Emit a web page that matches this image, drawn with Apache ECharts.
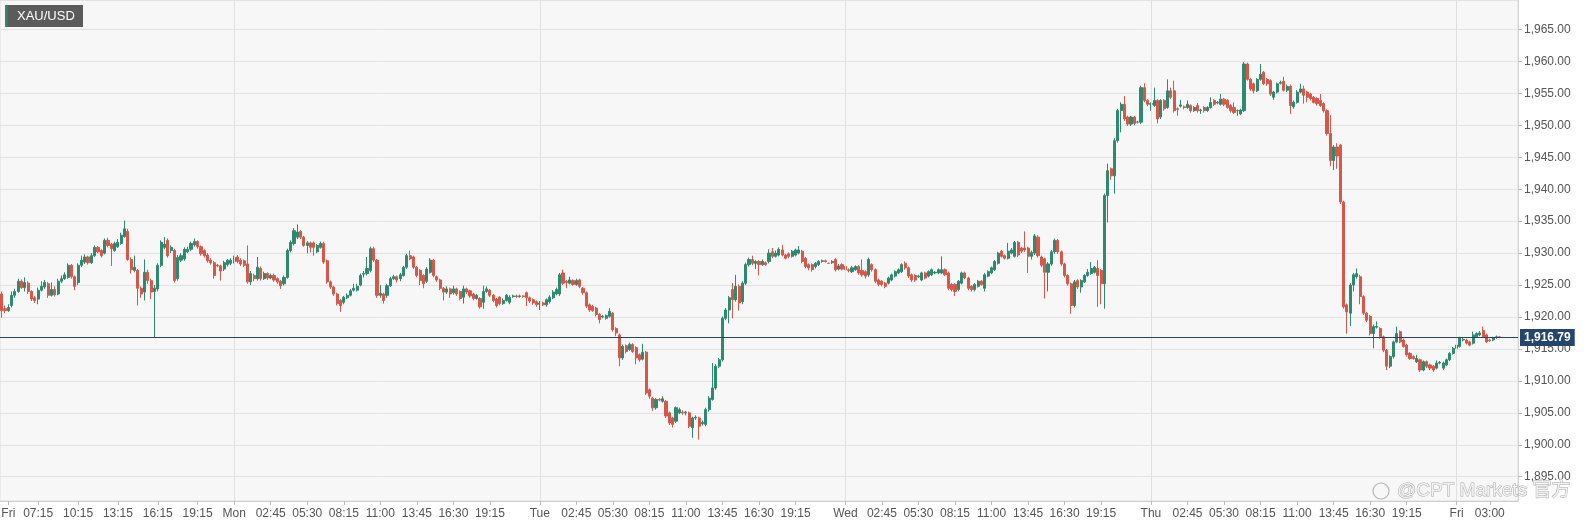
<!DOCTYPE html>
<html><head><meta charset="utf-8">
<script src="https://cdn.jsdelivr.net/npm/echarts@6/dist/echarts.min.js"></script>
<style>html,body{margin:0;padding:0;background:#fff}#c{width:1588px;height:527px}</style>
</head><body><div id="c"></div><script>
// ---------- DATA ----------
const symbolName = 'XAU/USD';
const lastPrice = 1916.79;
const watermark = '@CPT Markets 官方';
// Session days: [day name, first 15-min slot of session, number of slots]
const daySessions = [['Fri',18,70],['Mon',0,92],['Tue',0,92],['Wed',0,92],['Thu',0,92],['Fri',0,19]];
// candles: [open, close, low, high]
const fri1Candles = [
[1923.6,1921.0,1919.9,1924.0],[1921.3,1921.0,1920.6,1921.8],[1921.0,1921.5,1920.8,1922.0],[1921.8,1923.4,1921.5,1924.0],
[1923.4,1924.0,1923.0,1924.4],[1924.0,1925.6,1923.8,1926.0],[1925.6,1924.6,1924.4,1925.9],[1924.6,1925.4,1924.0,1926.2],
[1925.3,1924.0,1923.6,1925.6],[1924.0,1922.8,1922.5,1924.2],[1923.0,1922.6,1922.2,1923.3],[1922.8,1924.2,1922.0,1924.6],
[1924.2,1924.8,1924.0,1925.6],[1924.7,1925.4,1924.4,1925.8],[1925.2,1923.4,1923.0,1925.5],[1923.4,1924.3,1923.2,1925.4],
[1924.3,1923.5,1923.2,1924.8],[1923.6,1925.6,1923.4,1926.0],[1925.6,1926.0,1925.3,1926.5],[1926.0,1926.6,1925.8,1927.0],
[1926.2,1928.1,1926.0,1928.4],[1928.1,1926.3,1926.0,1928.3],[1926.3,1924.8,1924.2,1926.5],[1925.4,1928.1,1925.0,1928.4],
[1928.1,1928.9,1927.8,1929.6],[1928.6,1929.4,1928.3,1929.8],[1929.4,1928.5,1928.2,1929.6],[1928.5,1929.6,1928.3,1930.0],
[1929.6,1930.9,1929.4,1931.2],[1930.9,1930.2,1930.0,1931.1],[1930.4,1929.6,1929.3,1930.6],[1930.0,1932.0,1929.8,1932.3],
[1932.0,1931.2,1930.9,1932.4],[1931.4,1930.7,1928.0,1931.6],[1930.4,1931.5,1930.2,1931.8],[1931.0,1931.7,1930.8,1932.2],
[1931.5,1932.8,1931.3,1933.2],[1932.6,1933.8,1932.4,1935.1],[1933.4,1929.0,1928.8,1933.8],[1929.0,1927.4,1926.8,1929.3],
[1927.3,1927.8,1927.0,1929.6],[1927.3,1924.5,1921.8,1927.5],[1924.5,1923.6,1923.0,1924.8],[1923.9,1927.0,1922.6,1929.0],
[1927.0,1925.7,1925.2,1927.4],[1925.7,1923.9,1922.8,1926.0],[1924.0,1924.5,1916.8,1925.0],[1924.4,1928.1,1924.0,1928.4],
[1928.1,1931.7,1927.8,1932.0],[1930.9,1931.4,1930.6,1932.5],[1932.0,1929.6,1929.3,1932.3],[1930.4,1930.9,1930.0,1931.2],
[1930.4,1925.7,1925.4,1930.7],[1926.0,1929.3,1925.7,1929.7],[1928.9,1929.6,1928.6,1930.0],[1929.1,1930.6,1928.8,1930.9],
[1930.2,1930.6,1930.0,1931.0],[1930.6,1931.5,1930.3,1931.8],[1931.3,1931.8,1931.0,1932.3],[1931.8,1931.0,1930.7,1932.0],
[1931.0,1929.9,1929.6,1931.2],[1930.4,1929.6,1929.3,1930.6],[1929.7,1928.8,1928.5,1930.0],[1928.9,1928.5,1928.2,1929.2],
[1928.5,1926.5,1926.0,1928.8],[1928.1,1928.0,1927.8,1928.3],[1928.0,1927.2,1925.7,1928.2],[1927.5,1928.5,1927.2,1928.8],
[1928.2,1928.9,1927.9,1929.1],[1928.4,1928.9,1928.1,1929.2]
];
const monCandles = [
[1928.7,1929.3,1928.4,1929.6],[1929.4,1928.7,1928.4,1929.7],[1928.9,1928.3,1928.0,1929.2],[1928.8,1928.1,1927.8,1929.0],
[1928.3,1925.5,1925.2,1931.2],[1925.5,1926.8,1925.0,1927.2],[1926.5,1926.0,1925.6,1926.8],[1926.0,1927.8,1925.7,1929.4],
[1927.6,1926.0,1925.7,1927.9],[1926.0,1926.8,1925.8,1927.1],[1926.8,1926.1,1925.8,1927.0],[1926.1,1926.5,1925.9,1926.8],
[1926.5,1925.8,1925.5,1926.8],[1926.0,1925.5,1925.2,1926.2],[1925.6,1924.9,1924.4,1925.8],[1925.2,1926.2,1924.9,1926.5],
[1926.2,1930.4,1926.0,1930.7],[1930.4,1931.7,1930.1,1932.0],[1931.5,1933.5,1931.2,1933.9],[1932.5,1933.3,1932.2,1934.5],
[1933.4,1932.5,1932.2,1933.6],[1932.5,1931.2,1931.0,1932.7],[1931.2,1931.6,1930.0,1931.9],[1931.6,1930.9,1930.1,1931.8],
[1931.6,1930.9,1929.6,1931.8],[1930.2,1931.2,1930.0,1931.4],[1930.9,1931.5,1930.7,1931.8],[1931.5,1928.6,1928.3,1931.8],
[1928.8,1925.5,1925.2,1929.0],[1925.5,1924.7,1924.4,1925.7],[1924.7,1923.6,1923.3,1924.9],[1923.6,1922.1,1921.8,1923.8],
[1922.6,1921.8,1920.8,1922.8],[1922.3,1923.1,1922.0,1923.3],[1923.0,1923.4,1922.8,1923.7],[1923.4,1924.1,1923.2,1924.4],
[1924.2,1924.5,1924.0,1925.2],[1924.2,1924.8,1924.0,1925.2],[1925.0,1926.5,1924.8,1926.8],[1926.7,1926.8,1926.2,1927.2],
[1926.8,1927.6,1926.5,1929.4],[1927.3,1930.7,1927.0,1931.0],[1930.7,1928.9,1928.6,1931.0],[1928.9,1923.4,1923.0,1929.1],
[1923.4,1923.7,1923.0,1925.0],[1923.6,1922.6,1922.1,1923.8],[1923.4,1924.9,1923.0,1925.2],[1924.9,1926.0,1924.7,1926.3],
[1926.0,1926.3,1925.8,1926.6],[1926.3,1925.8,1925.4,1926.5],[1926.0,1926.6,1925.6,1926.9],[1926.5,1927.8,1926.3,1928.0],
[1927.8,1929.6,1927.5,1929.9],[1929.6,1929.1,1928.9,1930.4],[1929.4,1927.8,1927.5,1929.6],[1927.8,1926.5,1926.2,1928.0],
[1927.3,1925.7,1925.0,1927.5],[1926.5,1925.2,1924.5,1926.7],[1925.6,1927.5,1925.3,1927.8],[1927.0,1928.9,1926.8,1929.2],
[1928.9,1926.5,1926.2,1929.1],[1926.3,1925.8,1925.5,1926.5],[1925.8,1924.5,1924.2,1926.0],[1924.5,1923.9,1922.6,1924.7],
[1923.9,1924.4,1923.6,1924.8],[1924.4,1923.6,1923.0,1924.6],[1923.8,1924.4,1923.5,1924.9],[1924.4,1923.6,1923.3,1924.6],
[1924.0,1922.9,1922.6,1924.2],[1923.1,1924.4,1922.1,1924.9],[1924.4,1923.9,1923.6,1924.6],[1924.1,1923.3,1923.0,1924.3],
[1923.6,1922.9,1922.6,1923.8],[1922.9,1923.4,1922.7,1923.6],[1922.9,1921.6,1921.3,1923.1],[1922.3,1924.0,1921.3,1924.9],
[1924.0,1924.4,1923.8,1924.8],[1924.2,1923.4,1923.1,1924.4],[1923.4,1922.6,1922.3,1923.6],[1922.8,1921.8,1921.5,1923.0],
[1923.1,1922.1,1921.8,1923.3],[1922.1,1922.6,1921.9,1922.9],[1922.6,1923.4,1922.4,1923.6],[1922.3,1923.1,1922.0,1923.4],
[1923.2,1923.3,1923.0,1923.5],[1923.3,1923.2,1923.0,1923.5],[1923.2,1923.3,1923.0,1923.5],[1923.3,1923.2,1923.0,1923.4],
[1923.8,1923.0,1921.7,1924.0],[1923.0,1922.5,1922.2,1923.2],[1922.7,1922.2,1921.9,1922.9],[1922.4,1921.9,1921.6,1922.6]
];
const tueCandles = [
[1922.0,1922.2,1921.1,1922.5],[1922.2,1921.9,1921.7,1922.4],[1921.9,1922.7,1921.6,1922.9],[1922.4,1923.1,1922.1,1923.4],
[1923.0,1923.9,1922.8,1924.2],[1923.6,1924.3,1923.4,1924.6],[1923.6,1926.6,1923.3,1926.9],[1926.9,1925.3,1925.0,1927.4],
[1925.6,1925.4,1924.5,1925.8],[1925.3,1925.8,1925.1,1926.3],[1925.7,1925.1,1924.9,1925.9],[1925.1,1925.7,1924.9,1926.0],
[1925.8,1924.8,1924.5,1926.0],[1924.5,1923.8,1923.5,1924.7],[1923.8,1921.7,1921.4,1924.0],[1921.9,1921.1,1920.8,1922.1],
[1921.7,1921.0,1920.8,1921.9],[1921.4,1920.4,1920.1,1921.6],[1920.4,1919.6,1919.0,1920.6],[1920.0,1920.1,1919.8,1920.3],
[1919.8,1920.2,1919.6,1920.4],[1920.1,1920.9,1919.9,1921.4],[1920.6,1918.0,1917.7,1920.8],[1918.2,1917.5,1917.0,1918.4],
[1917.2,1913.6,1912.3,1917.4],[1913.6,1915.4,1913.3,1915.7],[1915.5,1914.6,1914.3,1915.7],[1914.9,1915.7,1914.7,1916.0],
[1915.7,1914.6,1914.4,1915.9],[1915.2,1913.6,1912.6,1915.4],[1914.1,1913.3,1913.0,1914.3],[1913.4,1914.5,1913.2,1915.8],
[1914.5,1908.1,1907.8,1914.7],[1908.6,1907.6,1907.2,1908.8],[1907.3,1905.8,1905.3,1907.5],[1905.8,1907.1,1905.5,1907.3],
[1907.1,1907.0,1906.8,1907.3],[1906.8,1907.2,1906.6,1907.6],[1906.8,1904.5,1904.2,1907.0],[1905.0,1903.4,1903.1,1905.2],
[1904.2,1903.2,1902.7,1904.4],[1903.7,1905.8,1903.4,1906.0],[1905.0,1905.5,1904.8,1905.8],[1905.1,1905.0,1904.7,1905.4],
[1905.0,1905.1,1904.6,1905.3],[1905.0,1902.9,1902.6,1905.2],[1902.7,1904.2,1901.1,1904.4],[1904.2,1904.3,1903.9,1904.6],
[1904.2,1902.9,1900.8,1904.4],[1903.3,1903.5,1903.0,1903.8],[1903.2,1905.5,1902.9,1905.8],[1905.5,1907.3,1905.2,1907.6],
[1907.1,1908.9,1906.9,1912.8],[1908.9,1912.3,1908.6,1912.6],[1912.3,1913.3,1912.0,1913.6],[1913.3,1919.8,1913.0,1920.1],
[1919.8,1921.1,1919.5,1921.4],[1921.1,1923.0,1919.0,1923.3],[1924.3,1922.7,1919.8,1925.3],[1922.7,1924.8,1922.4,1926.6],
[1924.8,1922.2,1921.0,1925.1],[1922.4,1925.3,1922.0,1925.6],[1925.3,1928.2,1925.0,1928.5],[1928.2,1929.0,1927.9,1929.3],
[1929.0,1928.4,1928.1,1929.6],[1928.4,1928.7,1927.5,1928.9],[1928.7,1928.2,1926.5,1928.9],[1928.2,1928.7,1928.0,1929.0],
[1928.5,1928.2,1928.0,1928.7],[1928.7,1930.0,1928.4,1930.6],[1930.2,1929.5,1929.2,1930.8],[1929.5,1930.0,1929.3,1930.4],
[1929.7,1930.6,1929.5,1930.9],[1930.5,1929.7,1929.5,1931.3],[1929.7,1929.2,1929.0,1929.9],[1929.9,1929.5,1929.2,1930.1],
[1929.5,1930.3,1929.3,1930.5],[1929.7,1930.5,1929.5,1930.7],[1930.0,1930.5,1929.8,1931.1],[1930.3,1928.7,1928.4,1930.5],
[1929.2,1927.9,1927.6,1929.4],[1928.2,1927.7,1927.3,1928.4],[1928.2,1927.4,1927.1,1928.4],[1927.9,1928.4,1927.6,1928.6],
[1928.2,1928.7,1928.0,1928.9],[1928.7,1928.8,1928.5,1929.0],[1928.8,1928.7,1928.5,1929.0],[1928.4,1928.4,1928.3,1928.5],
[1928.5,1928.7,1928.3,1928.9],[1929.0,1927.4,1927.1,1929.2],[1927.5,1928.0,1927.3,1928.3],[1928.2,1927.5,1927.3,1928.4]
];
const wedCandles = [
[1927.9,1927.4,1927.1,1928.1],[1927.4,1927.3,1927.0,1927.6],[1927.1,1927.7,1926.9,1928.0],[1927.4,1927.9,1927.2,1928.1],
[1927.9,1926.9,1926.6,1928.1],[1927.3,1926.6,1926.3,1929.0],[1927.1,1926.4,1926.0,1927.3],[1926.6,1929.0,1926.3,1929.3],
[1928.2,1927.4,1927.1,1928.4],[1927.4,1925.6,1925.3,1927.6],[1925.8,1925.1,1924.8,1926.0],[1925.6,1925.1,1924.8,1925.8],
[1925.3,1924.8,1924.5,1925.5],[1925.3,1926.1,1925.1,1926.3],[1925.8,1926.6,1925.6,1926.8],[1926.4,1927.1,1926.2,1927.3],
[1926.9,1927.4,1926.7,1927.6],[1927.1,1928.2,1926.9,1928.4],[1928.4,1927.7,1927.4,1928.7],[1927.7,1926.4,1926.1,1927.9],
[1926.6,1925.8,1925.5,1926.8],[1926.5,1925.8,1925.5,1926.7],[1926.3,1926.4,1926.1,1926.6],[1925.8,1926.9,1925.6,1927.1],
[1926.9,1926.1,1925.9,1927.1],[1926.4,1927.1,1926.2,1927.3],[1926.6,1927.4,1926.4,1927.6],[1926.9,1927.0,1926.7,1927.2],
[1926.9,1927.4,1926.7,1927.6],[1926.9,1927.4,1926.7,1929.5],[1927.4,1926.6,1926.4,1927.6],[1926.9,1924.5,1924.2,1927.1],
[1925.1,1924.3,1924.0,1925.3],[1925.1,1924.0,1923.3,1925.3],[1924.3,1925.6,1924.0,1925.8],[1925.3,1926.9,1925.1,1927.1],
[1926.9,1926.1,1925.9,1927.1],[1926.1,1924.5,1924.2,1926.3],[1924.8,1924.3,1924.0,1925.0],[1924.3,1925.1,1924.0,1925.3],
[1924.8,1925.6,1924.6,1925.8],[1925.6,1925.1,1924.9,1925.8],[1924.5,1926.6,1924.0,1926.9],[1926.4,1927.1,1926.2,1927.3],
[1926.9,1927.7,1926.7,1927.9],[1927.4,1928.7,1927.2,1928.9],[1928.4,1930.0,1928.2,1930.2],[1930.3,1929.5,1929.3,1930.5],
[1929.6,1929.2,1929.0,1929.8],[1929.2,1930.3,1929.0,1931.6],[1930.0,1930.5,1929.8,1930.8],[1929.5,1931.7,1929.3,1931.9],
[1931.7,1929.7,1929.4,1931.9],[1930.8,1930.3,1930.0,1931.0],[1930.8,1930.5,1930.2,1933.4],[1930.8,1929.5,1926.9,1931.0],
[1929.5,1930.1,1929.0,1930.4],[1930.0,1932.7,1929.7,1933.0],[1932.5,1929.6,1929.3,1932.8],[1929.4,1928.1,1927.8,1929.6],
[1929.1,1927.0,1922.9,1929.3],[1927.0,1928.3,1924.0,1928.6],[1928.3,1930.2,1928.0,1930.5],[1930.2,1932.0,1929.9,1932.3],
[1932.0,1930.2,1929.9,1932.2],[1930.2,1928.3,1928.0,1930.4],[1928.3,1926.5,1926.2,1928.5],[1926.5,1925.2,1924.9,1926.7],
[1925.2,1921.8,1920.5,1925.4],[1921.8,1925.5,1921.5,1925.8],[1925.7,1924.7,1924.4,1925.9],[1924.7,1925.7,1923.8,1925.9],
[1925.5,1926.5,1925.3,1926.7],[1926.5,1927.0,1926.3,1927.5],[1926.8,1927.6,1926.6,1928.6],[1927.0,1927.8,1926.8,1928.0],
[1927.6,1926.5,1921.6,1928.9],[1927.3,1925.2,1922.0,1927.5],[1925.2,1939.0,1921.3,1939.3],[1939.0,1942.9,1934.8,1944.0],
[1943.2,1942.1,1941.5,1943.4],[1942.1,1947.6,1939.3,1948.0],[1947.6,1952.3,1947.3,1952.6],[1952.3,1953.3,1948.9,1953.6],
[1953.3,1951.0,1950.7,1954.6],[1951.3,1950.2,1949.9,1951.5],[1950.2,1951.3,1949.9,1951.5],[1951.3,1950.3,1950.0,1951.5],
[1950.5,1950.5,1950.3,1950.7],[1950.5,1955.9,1950.2,1956.2],[1955.9,1953.9,1953.6,1956.6],[1953.9,1953.3,1953.0,1954.1]
];
const thuCandles = [
[1953.3,1953.4,1952.3,1953.6],[1953.1,1953.9,1952.9,1955.9],[1953.9,1951.0,1950.3,1954.1],[1951.3,1953.9,1951.0,1954.1],
[1953.9,1952.6,1952.3,1954.1],[1952.8,1955.4,1952.6,1957.2],[1955.4,1954.4,1954.1,1955.9],[1955.4,1952.3,1952.0,1957.0],
[1952.6,1952.5,1951.5,1952.8],[1953.0,1953.2,1952.8,1954.0],[1952.9,1952.8,1952.5,1953.1],[1952.8,1953.3,1952.6,1953.9],
[1953.1,1952.3,1952.0,1953.3],[1952.3,1952.8,1952.1,1953.0],[1953.1,1952.3,1952.0,1953.5],[1952.3,1952.4,1951.8,1952.6],
[1952.8,1952.3,1952.0,1953.0],[1952.3,1952.8,1952.1,1953.0],[1952.8,1953.6,1952.6,1954.4],[1953.9,1953.3,1953.0,1954.1],
[1953.5,1953.6,1953.3,1953.8],[1953.3,1954.1,1953.1,1954.9],[1954.1,1953.3,1953.0,1954.3],[1953.9,1952.8,1952.6,1954.1],
[1953.1,1952.3,1952.0,1953.3],[1952.8,1952.0,1951.8,1953.6],[1952.3,1952.3,1951.5,1952.5],[1951.8,1952.4,1951.6,1952.6],
[1952.3,1959.6,1952.1,1959.9],[1959.6,1957.2,1957.0,1959.8],[1957.2,1955.7,1955.4,1957.4],[1956.5,1955.4,1955.0,1956.7],
[1955.4,1957.2,1955.2,1957.4],[1957.2,1958.0,1957.0,1959.6],[1958.3,1956.5,1956.3,1958.5],[1957.2,1956.5,1956.2,1957.4],
[1957.0,1954.9,1954.6,1957.2],[1954.4,1955.2,1954.0,1955.4],[1955.2,1956.5,1955.0,1956.7],[1956.6,1956.7,1956.4,1957.0],
[1956.9,1955.5,1955.3,1957.6],[1955.5,1956.1,1955.2,1956.4],[1956.1,1953.1,1951.8,1956.4],[1952.9,1953.6,1952.6,1953.9],
[1953.6,1955.2,1953.4,1955.5],[1955.2,1955.7,1955.0,1956.5],[1955.7,1954.7,1953.4,1956.2],[1955.2,1954.4,1953.6,1955.4],
[1954.9,1954.2,1953.9,1955.1],[1954.4,1953.6,1953.4,1954.6],[1954.2,1953.4,1953.1,1954.4],[1953.9,1953.1,1952.9,1954.9],
[1953.4,1952.3,1952.0,1953.6],[1952.3,1948.7,1948.4,1952.5],[1948.7,1944.5,1943.6,1951.6],[1944.5,1946.6,1943.0,1946.9],
[1946.6,1945.2,1943.2,1947.2],[1946.9,1938.0,1937.7,1947.1],[1938.0,1921.6,1921.3,1938.2],[1921.9,1920.8,1917.4,1922.1],
[1920.6,1925.0,1918.6,1925.3],[1925.0,1926.6,1924.0,1926.9],[1926.3,1926.8,1926.0,1927.6],[1926.3,1923.2,1922.0,1926.6],
[1923.2,1920.6,1920.3,1923.4],[1920.6,1919.5,1919.2,1920.8],[1920.1,1917.4,1917.1,1920.3],[1917.4,1918.5,1915.1,1918.8],
[1918.4,1918.5,1918.2,1919.3],[1918.2,1916.9,1916.6,1918.4],[1916.9,1914.8,1914.5,1917.1],[1914.8,1912.3,1911.7,1915.0],
[1912.3,1913.8,1912.0,1914.0],[1913.8,1916.1,1913.5,1916.3],[1916.1,1917.4,1915.9,1918.5],[1917.7,1916.1,1915.9,1917.9],
[1916.4,1915.4,1915.2,1916.6],[1915.6,1914.1,1913.8,1915.8],[1914.3,1913.5,1913.3,1914.5],[1913.8,1913.5,1913.3,1914.0],
[1913.0,1913.5,1912.8,1914.1],[1913.3,1911.7,1911.4,1913.5],[1911.7,1913.0,1911.5,1913.2],[1913.0,1912.3,1912.0,1913.2],
[1912.5,1912.0,1911.7,1912.7],[1912.3,1911.7,1911.4,1912.5],[1912.0,1912.8,1911.8,1913.2],[1912.8,1912.9,1912.6,1913.1],
[1912.0,1912.8,1911.7,1913.0],[1912.5,1913.3,1912.3,1913.5],[1913.3,1914.3,1913.1,1914.5],[1914.3,1915.1,1914.1,1915.3]
];
const fri2Candles = [
[1915.1,1915.6,1914.9,1915.8],[1915.4,1916.7,1915.2,1916.9],[1916.4,1916.5,1916.2,1916.7],[1916.4,1915.9,1915.7,1916.6],
[1916.1,1915.6,1915.4,1916.3],[1915.9,1917.2,1915.7,1917.7],[1916.9,1917.4,1916.7,1917.6],[1917.2,1917.5,1917.0,1917.8],
[1917.9,1916.9,1916.7,1918.5],[1917.2,1916.1,1915.9,1917.4],[1916.4,1916.3,1916.1,1916.6],[1916.4,1916.7,1916.2,1916.9],
[1916.8,1916.9,1916.6,1917.1],[1916.9,1916.79,1916.7,1917.0]
];
// x-axis tick labels: [category index, text]
const tickLabels = [
[2,'Fri'],[11,'07:15'],[23,'10:15'],[35,'13:15'],[47,'16:15'],[59,'19:15'],
[70,'Mon'],[81,'02:45'],[92,'05:30'],[103,'08:15'],[114,'11:00'],[125,'13:45'],[136,'16:30'],[147,'19:15'],
[162,'Tue'],[173,'02:45'],[184,'05:30'],[195,'08:15'],[206,'11:00'],[217,'13:45'],[228,'16:30'],[239,'19:15'],
[254,'Wed'],[265,'02:45'],[276,'05:30'],[287,'08:15'],[298,'11:00'],[309,'13:45'],[320,'16:30'],[331,'19:15'],
[346,'Thu'],[357,'02:45'],[368,'05:30'],[379,'08:15'],[390,'11:00'],[401,'13:45'],[412,'16:30'],[423,'19:15'],
[438,'Fri'],[448,'03:00']
];
const yMin = 1891.2, yMax = 1969.62;

// ---------- BUILD ----------
const UP = '#2e8a6f', DOWN = '#d6584b';
function pad(n){return (n<10?'0':'')+n;}
function sessionTimes(){const out=[];for(let m=0;m<1440;m+=15){if(m>=1260&&m<1320)continue;out.push(pad(Math.floor(m/60))+':'+pad(m%60));}return out;}
const slots = sessionTimes();
const categories = [];
daySessions.forEach(([d,s,n])=>{slots.slice(s,s+n).forEach(t=>categories.push(d+' '+t));});
const candles = [].concat(fri1Candles,monCandles,tueCandles,wedCandles,thuCandles,fri2Candles);
const tickMap = new Map(tickLabels.map(t=>[t[0],t[1]]));
const fmt = v => v.toLocaleString('en-US',{minimumFractionDigits:2,maximumFractionDigits:2});
const dayLines = tickLabels.filter(t=>/^[A-Z]/.test(t[1]) && t[0]>2).map(t=>({xAxis:categories[t[0]],lineStyle:{color:'#e0e0e0',width:1,type:'solid'},label:{show:false}}));

const chart = echarts.init(document.getElementById('c'),null,{renderer:'canvas'});
chart.setOption({
  animation:false,
  backgroundColor:'#ffffff',
  grid:{left:0,right:70,top:0,bottom:26,containLabel:false,outerBoundsMode:'none',show:true,backgroundColor:'#f7f7f7',borderColor:'#dedede',borderWidth:1},
  xAxis:{type:'category',data:categories,boundaryGap:true,
    axisLine:{show:true,lineStyle:{color:'#cfcfcf'}},
    axisTick:{show:true,alignWithLabel:true,interval:(i)=>tickMap.has(i),length:4,lineStyle:{color:'#bbbbbb'}},
    axisLabel:{interval:(i)=>tickMap.has(i),formatter:(v,i)=>tickMap.get(i)||'',color:'#555',fontFamily:'"Liberation Sans Narrow","Liberation Sans",Arial',fontSize:12,margin:7},
    splitLine:{show:false}},
  yAxis:{type:'value',position:'right',min:yMin,max:yMax,splitNumber:16,scale:true,
    axisLine:{show:true,lineStyle:{color:'#d5d5d5'}},
    axisTick:{show:true,length:4,lineStyle:{color:'#bbbbbb'}},
    axisLabel:{color:'#555',fontSize:12,fontFamily:'"Liberation Sans",Arial',margin:6,showMinLabel:false,showMaxLabel:false,
      formatter:v=>(Math.abs(v/5-Math.round(v/5))<1e-6)?fmt(v):''},
    splitLine:{show:true,lineStyle:{color:'#e3e3e3',width:1}}},
  series:[{type:'candlestick',data:candles,barWidth:2.6,
    itemStyle:{color:UP,color0:DOWN,borderColor:UP,borderColor0:DOWN,borderWidth:1},
    markLine:{silent:true,symbol:'none',animation:false,
      data:dayLines.concat([{yAxis:lastPrice,lineStyle:{color:'#2d415b',width:1.2,type:'solid'},
        label:{show:true,position:'end',distance:2,formatter:fmt(lastPrice),backgroundColor:'#25466b',color:'#fff',
          fontWeight:'bold',fontSize:12,fontFamily:'"Liberation Sans",Arial',padding:[3,4,2,4]}}])}}],
  graphic:[
    {type:'rect',shape:{x:5,y:5,width:78,height:22},style:{fill:'#5b5b5b'},z:100},
    {type:'rect',shape:{x:5,y:5,width:2.5,height:22},style:{fill:'#2e8a6f'},z:101},
    {type:'text',x:17,y:16.5,style:{text:symbolName,fill:'#ffffff',font:'13px "Liberation Sans",Arial',verticalAlign:'middle'},z:101},
    {type:'circle',shape:{cx:1381,cy:491,r:8},style:{fill:'none',stroke:'#b5b5b5',lineWidth:1.2},z:100},
    {type:'text',x:1397,y:491,style:{text:watermark,fill:'#f2f2f2',stroke:'#aaaaaa',lineWidth:1,font:'19px "Liberation Sans","Noto Sans CJK SC"',verticalAlign:'middle'},z:100}
  ]
});
</script></body></html>
